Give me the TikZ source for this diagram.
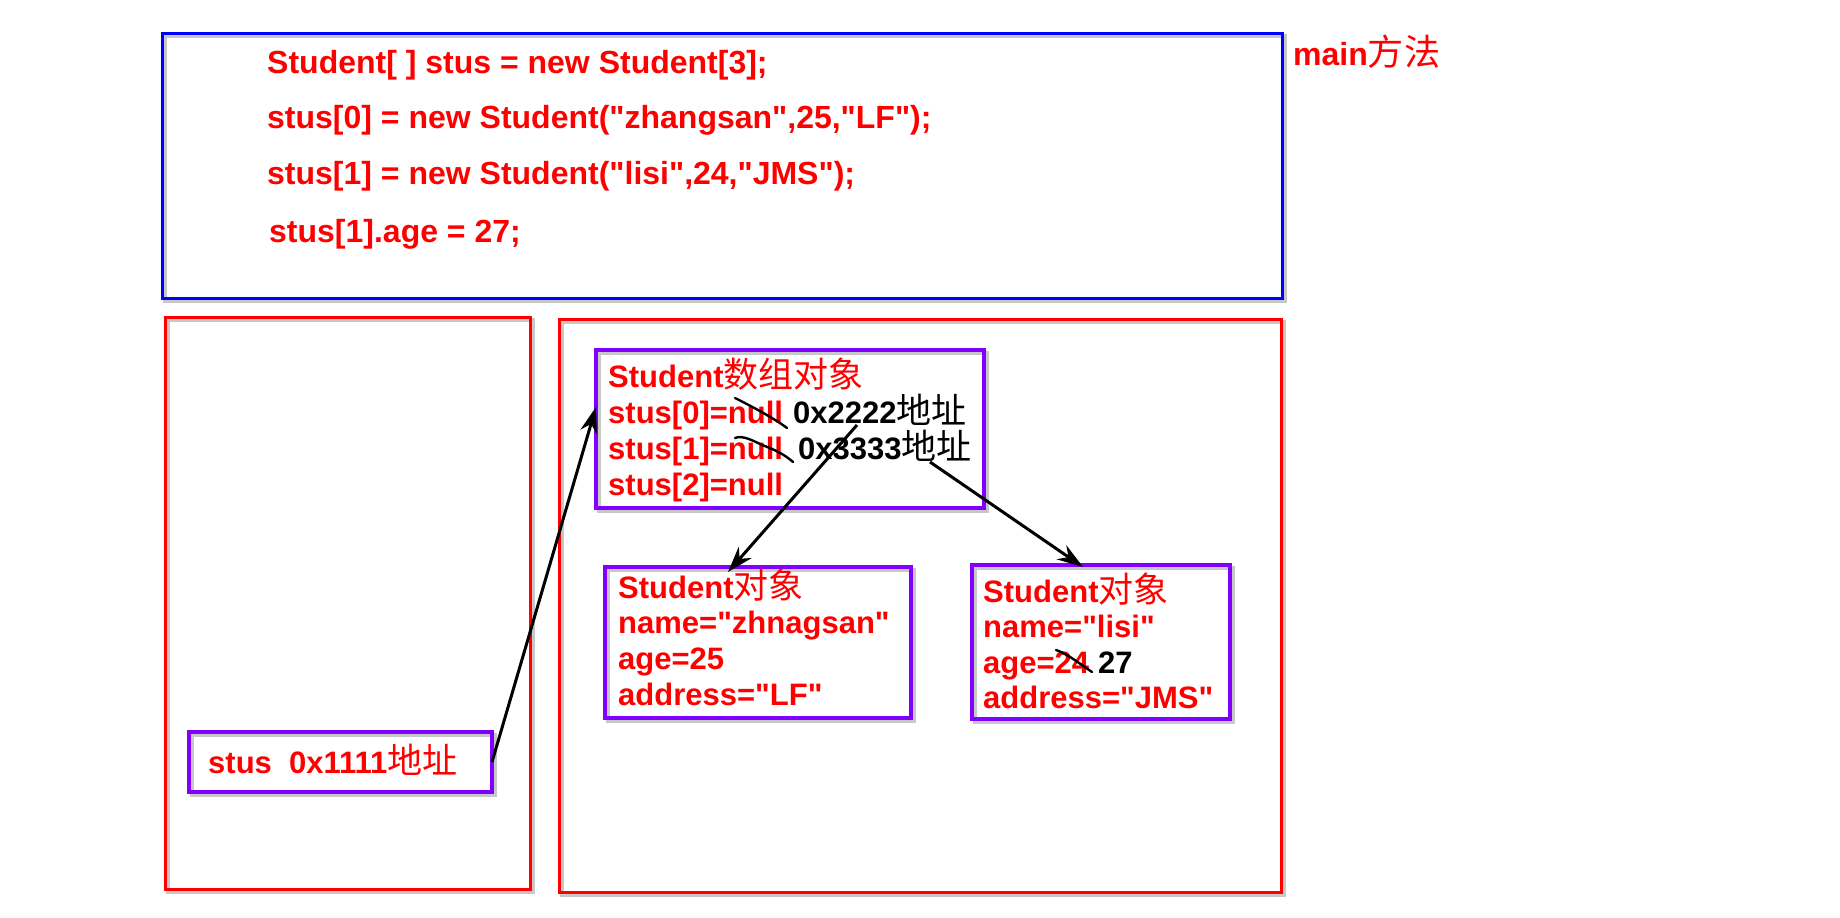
\documentclass[tikz,border=0pt]{standalone}
\usepackage{fontspec}
\setmainfont{Liberation Sans}[Ligatures=TeXOff]
\newfontfamily\cjk[Scale=1.13]{Noto Sans CJK SC}
\newcommand\dq{\char34\relax}
\usetikzlibrary{arrows.meta}
\definecolor{myred}{RGB}{255,0,0}
\definecolor{myblue}{RGB}{0,0,255}
\definecolor{mypurple}{RGB}{128,0,255}
\begin{document}
\begin{tikzpicture}[x=1pt,y=-1pt,
  shadowed/.style={preaction={draw=black!22, line width=4pt, transform canvas={xshift=2.5pt,yshift=-3pt}}},
  box/.style={draw, line width=3pt, shadowed, inner sep=0pt, outer sep=0pt},
  bluebox/.style={box, draw=myblue},
  redbox/.style={box, draw=myred},
  pbox/.style={box, draw=mypurple, line width=3.5pt},
  txt/.style={anchor=base west, inner sep=0pt, font=\fontsize{31}{36}\selectfont\bfseries, text=myred},
  code/.style={txt, font=\fontsize{32}{38}\selectfont\bfseries},
  btxt/.style={txt, text=black},
  arr/.style={draw=black, line width=3pt, -{Stealth[length=26pt,width=17pt]}},
  strike/.style={draw=black, line width=2.4pt, line cap=round}
]
\useasboundingbox (0,0) rectangle (1840,918);

% frames
\node[bluebox, minimum width=1120pt, minimum height=265pt] (main) at (722,165.5) {};
\node[redbox, minimum width=365pt, minimum height=572pt] (stack) at (347.5,603) {};
\node[redbox, minimum width=722pt, minimum height=573pt] (heap) at (920,605.5) {};

% main method code
\node[code] (c1) at (267,73) {Student[ ] stus = new Student[3];};
\node[code] (c2) at (267,128) {stus[0] = new Student(\dq zhangsan\dq,25,\dq LF\dq);};
\node[code] (c3) at (267,184) {stus[1] = new Student(\dq lisi\dq,24,\dq JMS\dq);};
\node[code] (c4) at (269,242) {stus[1].age = 27;};
\node[code] (mlabel) at (1293,65) {main{\cjk\mdseries 方法}};

% array object
\node[pbox, minimum width=388pt, minimum height=158pt] (arrbox) at (790,429) {};
\node[txt] (a0) at (608,387) {Student{\cjk\mdseries 数组对象}};
\node[txt] (a1) at (608,423) {stus[0]=null};
\node[txt] (a2) at (608,459) {stus[1]=null};
\node[txt] (a3) at (608,495) {stus[2]=null};
\node[btxt] (addrA) at (793,423) {0x2222{\cjk\mdseries 地址}};
\node[btxt] (addrB) at (798,459) {0x3333{\cjk\mdseries 地址}};
\draw[strike] (735,398) .. controls (755,408) and (775,419) .. (787,428);
\draw[strike] (735,438) .. controls (742,435) and (752,440) .. (762,445) .. controls (776,450) and (785,455) .. (793,462);

% student 1
\node[pbox, minimum width=306pt, minimum height=151pt] (s1) at (758,642.5) {};
\node[txt] (s1a) at (618,598) {Student{\cjk\mdseries 对象}};
\node[txt] (s1b) at (618,633) {name=\dq zhnagsan\dq};
\node[txt] (s1c) at (618,669) {age=25};
\node[txt] (s1d) at (618,705) {address=\dq LF\dq};

% student 2
\node[pbox, minimum width=258pt, minimum height=154pt] (s2) at (1101,642) {};
\node[txt] (s2a) at (983,602) {Student{\cjk\mdseries 对象}};
\node[txt] (s2b) at (983,637) {name=\dq lisi\dq};
\node[txt] (s2c) at (983,673) {age=24};
\node[btxt] (s2n) at (1098,673) {27};
\node[txt] (s2d) at (983,708) {address=\dq JMS\dq};
\draw[strike] (1056,650) .. controls (1068,654) and (1080,664) .. (1092,672);

% stack variable
\node[pbox, minimum width=303pt, minimum height=60pt] (stus) at (340.5,762) {};
\node[txt] (st) at (208,773) {stus\ \ 0x1111{\cjk\mdseries 地址}};

% references
\coordinate (pA) at (857,425);
\coordinate (pB) at (930,462);
\draw[arr] (stus.east) -- ([yshift=22pt]arrbox.west);
\draw[arr] (pA) -- ([xshift=-30pt,yshift=-5pt]s1.north);
\draw[arr] (pB) -- ([xshift=-18pt,yshift=-2pt]s2.north);
\end{tikzpicture}
\end{document}
